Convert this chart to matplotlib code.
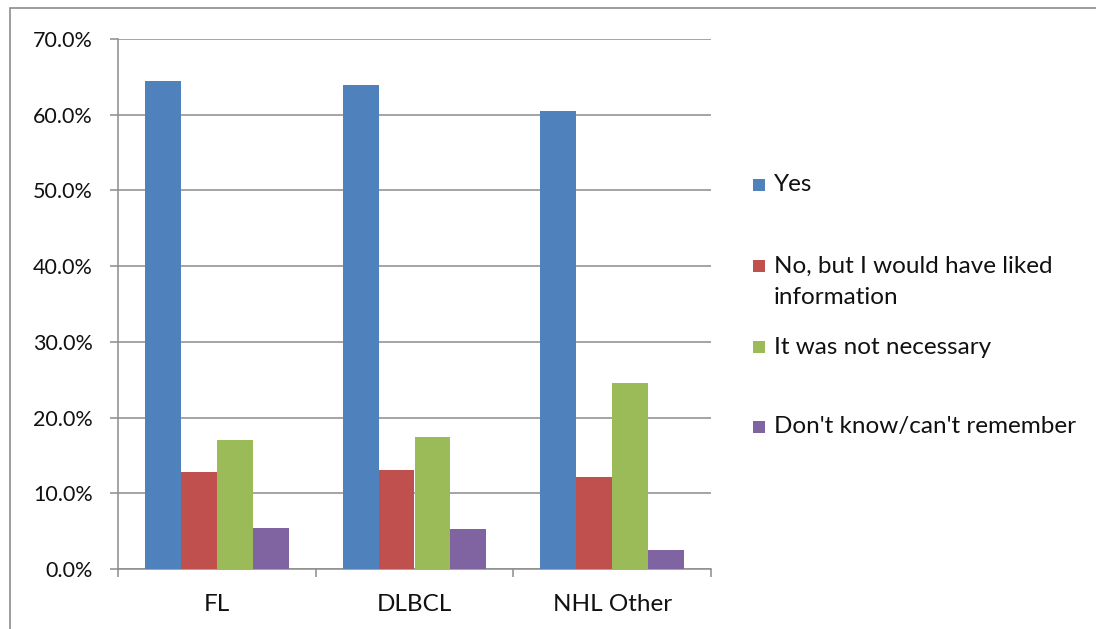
import matplotlib
matplotlib.use("Agg")
import matplotlib.pyplot as plt
from matplotlib.patches import Rectangle
import numpy as np

categories = ["FL", "DLBCL", "NHL Other"]
series_names = ["Yes", "No, but I would have liked\ninformation", "It was not necessary",
                "Don't know/can't remember"]
yes = [64.5, 63.9, 60.5]
no_liked = [12.8, 13.1, 12.1]
not_necessary = [17.1, 17.5, 24.6]
dont_know = [5.4, 5.3, 2.5]
series = [yes, no_liked, not_necessary, dont_know]
colors = ["#4F81BD", "#C0504D", "#9BBB59", "#8064A2"]
yticks = [0, 10, 20, 30, 40, 50, 60, 70]

plt.rcParams['font.family'] = ['Lato', 'DejaVu Sans']
FS = 17.5
W, H = 1096, 629
fig = plt.figure(figsize=(W / 100, H / 100), dpi=100)
ax = fig.add_axes([118 / W, (H - 569) / H, (711 - 118) / W, (569 - 39) / H])

n = len(series)
gap = 1.5
bw = 1.0 / (n + gap)
x = np.arange(len(categories))
for i, (vals, c) in enumerate(zip(series, colors)):
    offs = (i - (n - 1) / 2) * bw
    ax.bar(x + offs, vals, width=bw, color=c, edgecolor='none', zorder=3)

ax.set_xlim(-0.5, len(categories) - 0.5)
ax.set_ylim(0, 70)
ax.set_yticks(yticks)
ax.set_yticklabels([f"{v:.1f}%" for v in yticks], fontsize=15.5, color='#111111')
ax.yaxis.grid(True, color='#8c8c8c', linewidth=1.1, zorder=0)
ax.set_xticks(x)
ax.set_xticklabels(categories, fontsize=FS, color='#111111')
ax.tick_params(axis='x', which='major', length=0, pad=18)
ax.set_xticks(np.arange(len(categories) + 1) - 0.5, minor=True)
ax.tick_params(axis='x', which='minor', length=6, color='#8c8c8c', width=1.1)
ax.tick_params(axis='y', length=6, color='#8c8c8c', width=1.1, pad=12)
for s in ['top', 'right']:
    ax.spines[s].set_visible(False)
for s in ['left', 'bottom']:
    ax.spines[s].set_color('#8c8c8c')
    ax.spines[s].set_linewidth(1.1)

# chart border
fig.patches.append(Rectangle((10 / W, -0.1), 2, (H - 8) / H + 0.1, transform=fig.transFigure,
                             fill=False, edgecolor='#8c8c8c', linewidth=1.2))

# legend
leg_y = [185, 266, 347, 427]
for name, c, yy in zip(series_names, colors, leg_y):
    fig.patches.append(Rectangle((753 / W, (H - yy - 6) / H), 12 / W, 12 / H,
                                 transform=fig.transFigure, facecolor=c, edgecolor='none'))
    if '\n' in name:
        line1, line2 = name.split('\n')
        fig.text(774 / W, (H - yy) / H, line1, fontsize=FS, va='center', ha='left',
                 color='#111111')
        fig.text(774 / W, (H - yy - 32) / H, line2, fontsize=FS, va='center', ha='left',
                 color='#111111')
    else:
        fig.text(774 / W, (H - yy) / H, name, fontsize=FS, va='center', ha='left',
                 color='#111111')

fig.savefig("out.png", dpi=100)
